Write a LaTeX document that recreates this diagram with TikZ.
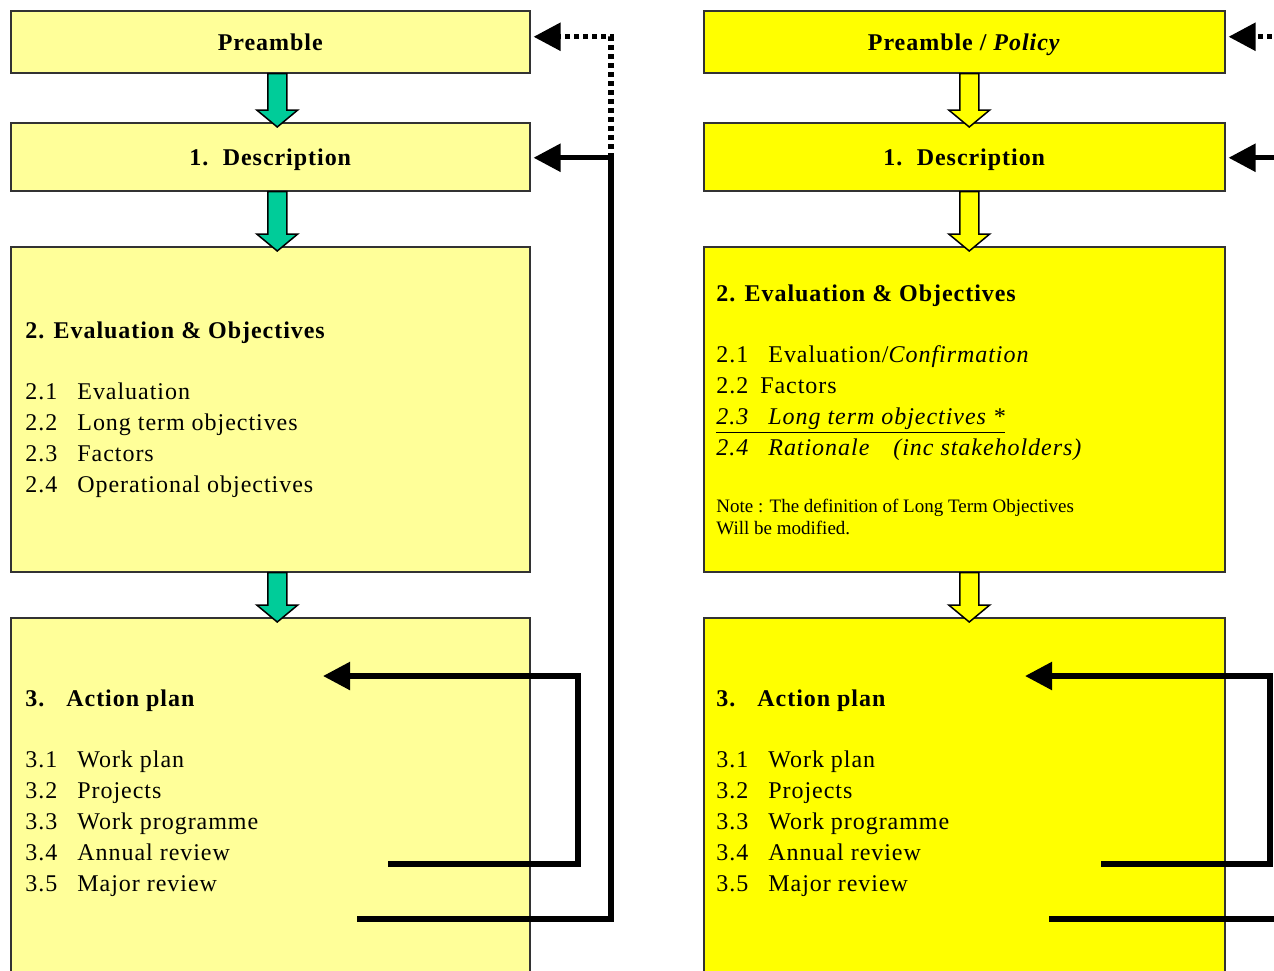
\documentclass[tikz,border=0pt]{standalone}
\usepackage{fontspec}
\setmainfont{Liberation Serif}[LetterSpace=4]
\newfontfamily\notefont{Liberation Serif}
\usetikzlibrary{calc,arrows.meta}
\definecolor{paleyel}{HTML}{FFFF99}
\definecolor{brightyel}{HTML}{FFFF00}
\definecolor{blkgreen}{HTML}{00CC99}
\newcommand\blockarr[4]{% from, to, fill, x offset
  \path ($(#1.south)+(#4,0)$) coordinate (bs) ($(#2.north)+(#4,5)$) coordinate (bt);
  \draw[blkarrow, fill=#3] ($(bs)+(-9.5,0)$) -- ($(bs)+(9.5,0)$) -- ($(bt)+(9.5,-17)$)
    -- ($(bt)+(20.5,-17)$) -- (bt) -- ($(bt)+(-20.5,-17)$) -- ($(bt)+(-9.5,-17)$) -- cycle;}
\begin{document}
\begin{tikzpicture}[x=0.5pt,y=-0.5pt,
  box/.style={draw=black!80, line width=0.75pt, inner sep=0, anchor=north west},
  lbox/.style={box, fill=paleyel, minimum width=259.5pt},
  rbox/.style={box, fill=brightyel, minimum width=260.5pt},
  ttl/.style={font=\bfseries\fontsize{12}{14}\selectfont, text depth=0pt},
  body/.style={anchor=north west, inner sep=0, font=\fontsize{12}{15.4}\selectfont},
  blkarrow/.style={draw=black, line width=0.75pt, line join=miter},
  fb/.style={line width=2.7pt, line join=miter},
  fbarrow/.style={fb, -{Triangle[length=13.5pt,width=13.5pt]}},
  fbdot/.style={fbarrow, dash pattern=on 2.5pt off 2pt}
]
\useasboundingbox (0,0) rectangle (1274,970);
\fill[white] (0,0) rectangle (1274,970);
\clip (0,0) rectangle (1274,970);

% ---------- left column ----------
\node[lbox, ttl, minimum height=31pt] (lpre) at (10,10) {Preamble};
\node[lbox, ttl, minimum height=34pt] (ldesc) at (10,122) {1.\hspace{0.6em}Description};
\node[lbox, minimum height=162.5pt] (leval) at (10,246) {};
\node[lbox, minimum height=191.5pt] (lact) at (10,617) {};

\node[body] (levtxt) at (25,316.4) {\begin{tabular}{@{}p{26pt}@{}l@{}}
\multicolumn{2}{@{}l@{}}{\bfseries 2. Evaluation \& Objectives}\\
\\
2.1 & Evaluation\\
2.2 & Long term objectives\\
2.3 & Factors\\
2.4 & Operational objectives
\end{tabular}};

\node[body] (lacttxt) at (25,684.4) {\begin{tabular}{@{}p{26pt}@{}l@{}}
\multicolumn{2}{@{}l@{}}{\bfseries\makebox[20.5pt][l]{3.}Action plan}\\
\\
3.1 & Work plan\\
3.2 & Projects\\
3.3 & Work programme\\
3.4 & Annual review\\
3.5 & Major review
\end{tabular}};

% ---------- right column ----------
\node[rbox, ttl, minimum height=31pt] (rpre) at (703,10) {Preamble / \textit{Policy}};
\node[rbox, ttl, minimum height=34pt] (rdesc) at (703,122) {1.\hspace{0.6em}Description};
\node[rbox, minimum height=162.5pt] (reval) at (703,246) {};
\node[rbox, minimum height=191.5pt] (ract) at (703,617) {};

\node[body] (revtxt) at (716,279.4) {\begin{tabular}{@{}p{26pt}@{}l@{}}
\multicolumn{2}{@{}l@{}}{\bfseries 2. Evaluation \& Objectives}\\
\\
2.1 & Evaluation/\textit{Confirmation}\\
\multicolumn{2}{@{}l@{}}{2.2\hspace{6pt}Factors}\\
\multicolumn{2}{@{}l@{}}{\itshape\underline{\makebox[26pt][l]{2.3}Long term objectives *}}\\
\itshape 2.4 & \itshape Rationale\hspace{12pt}(inc stakeholders)
\end{tabular}};

\node[anchor=north west, inner sep=0, font=\notefont\fontsize{9.5}{11}\selectfont] (rnote) at (716,497)
 {\begin{tabular}{@{}l@{}}Note : The definition of Long Term Objectives\\ Will be modified.\end{tabular}};

\node[body] (racttxt) at (716,684.4) {\begin{tabular}{@{}p{26pt}@{}l@{}}
\multicolumn{2}{@{}l@{}}{\bfseries\makebox[20.5pt][l]{3.}Action plan}\\
\\
3.1 & Work plan\\
3.2 & Projects\\
3.3 & Work programme\\
3.4 & Annual review\\
3.5 & Major review
\end{tabular}};

% ---------- block arrows ----------
\blockarr{lpre}{ldesc}{blkgreen}{7}
\blockarr{ldesc}{leval}{blkgreen}{7}
\blockarr{leval}{lact}{blkgreen}{7}
\blockarr{rpre}{rdesc}{brightyel}{5}
\blockarr{rdesc}{reval}{brightyel}{5}
\blockarr{reval}{ract}{brightyel}{5}

% ---------- feedback lines, left ----------
\coordinate (lx) at (611,0);
\coordinate (lix) at (578,0);
\coordinate (lout) at (357,919);
\coordinate (lin) at (388,864);
\coordinate (ltip) at (323,676);
\coordinate (lpreT) at ($(lpre.east)+(3,-5)$);
\coordinate (ldescT) at ($(ldesc.east)+(3,1)$);
\draw[fbarrow] (lout) -- (lx |- lout) -- (lx |- ldescT) -- (ldescT);
\draw[fbdot] (lx |- ldescT) -- (lx |- lpreT) -- (lpreT);
\draw[fbarrow] (lin) -- (lix |- lin) -- (lix |- ltip) -- (ltip);

% ---------- feedback lines, right ----------
\coordinate (rx) at (1304,0);
\coordinate (rix) at (1270,0);
\coordinate (rout) at (1049,919);
\coordinate (rin) at (1101,864);
\coordinate (rtip) at (1025,676);
\coordinate (rpreT) at ($(rpre.east)+(3,-5)$);
\coordinate (rdescT) at ($(rdesc.east)+(3,1)$);
\draw[fbarrow] (rout) -- (rx |- rout) -- (rx |- rdescT) -- (rdescT);
\draw[fbdot] (rx |- rdescT) -- (rx |- rpreT) -- (rpreT);
\draw[fbarrow] (rin) -- (rix |- rin) -- (rix |- rtip) -- (rtip);
\end{tikzpicture}
\end{document}
